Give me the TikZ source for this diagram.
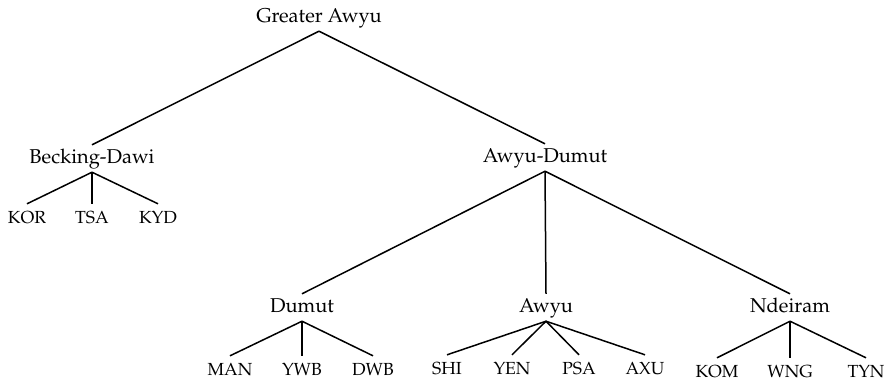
\documentclass[tikz,border=0pt]{standalone}
\usepackage[T1]{fontenc}
\usepackage{mathpazo}
\begin{document}
\begin{tikzpicture}[x=1pt,y=-1pt,
  inner/.style={font=\fontsize{20}{24}\selectfont, inner sep=0pt, text height=18pt, text depth=9pt, anchor=base},
  leaf/.style={font=\fontsize{17.5}{22}\selectfont, inner sep=0pt, text height=19pt, text depth=2pt, anchor=base},
  edge/.style={line width=1.5pt}]
\useasboundingbox (0,0) rectangle (888,381);
\node[inner] (ga) at (319,22) {Greater Awyu};
\node[inner] (bd) at (92,163) {Becking-Dawi};
\node[inner] (ad) at (545,162) {Awyu-Dumut};
\node[leaf] (kor) at (27,223) {KOR};
\node[leaf] (tsa) at (92,223) {TSA};
\node[leaf] (kyd) at (158,223) {KYD};
\node[inner] (dumut) at (302,312) {Dumut};
\node[inner] (awyu) at (546,312) {Awyu};
\node[inner] (ndeiram) at (790,312) {Ndeiram};
\node[leaf] (man) at (230,375) {MAN};
\node[leaf] (ywb) at (302,375) {YWB};
\node[leaf] (dwb) at (373,375) {DWB};
\node[leaf] (shi) at (447,374) {SHI};
\node[leaf] (yen) at (512,374) {YEN};
\node[leaf] (psa) at (579,374) {PSA};
\node[leaf] (axu) at (645,374) {AXU};
\node[leaf] (kom) at (717,377) {KOM};
\node[leaf] (wng) at (790,377) {WNG};
\node[leaf] (tyn) at (866,377) {TYN};
\draw[edge] (ga.south) -- (bd.north);
\draw[edge] (ga.south) -- (ad.north);
\draw[edge] (bd.south) -- (kor.north);
\draw[edge] (bd.south) -- (tsa.north);
\draw[edge] (bd.south) -- (kyd.north);
\draw[edge] (ad.south) -- (dumut.north);
\draw[edge] (ad.south) -- (awyu.north);
\draw[edge] (ad.south) -- (ndeiram.north);
\draw[edge] (dumut.south) -- (man.north);
\draw[edge] (dumut.south) -- (ywb.north);
\draw[edge] (dumut.south) -- (dwb.north);
\draw[edge] (awyu.south) -- (shi.north);
\draw[edge] (awyu.south) -- (yen.north);
\draw[edge] (awyu.south) -- (psa.north);
\draw[edge] (awyu.south) -- (axu.north);
\draw[edge] (ndeiram.south) -- (kom.north);
\draw[edge] (ndeiram.south) -- (wng.north);
\draw[edge] (ndeiram.south) -- (tyn.north);
\end{tikzpicture}
\end{document}
